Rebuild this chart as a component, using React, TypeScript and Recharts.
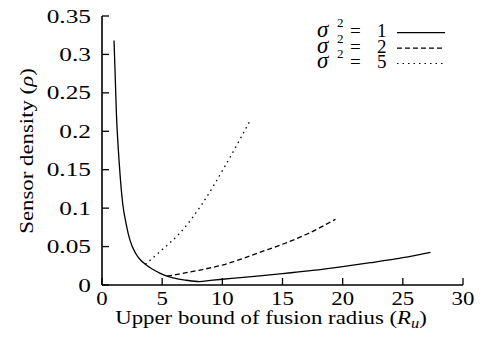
import React from 'react';
import { LineChart, Line, XAxis, YAxis, Legend } from 'recharts';

const xTicks = [0, 5, 10, 15, 20, 25, 30];
const yTicks = [0, 0.05, 0.1, 0.15, 0.2, 0.25, 0.3, 0.35];

const sigmaValues = ['1', '2', '5'];

const solidR = [1.0, 1.2, 1.44, 1.72, 2.0, 2.33, 2.8, 3.2, 3.6, 4.2, 4.8, 5.4, 6, 7, 8.1, 9, 10, 11.5, 13.1, 15, 17.5, 20, 22.3, 25, 27.3];
const solidRho = [0.318, 0.222, 0.157, 0.106, 0.08, 0.058, 0.041, 0.0325, 0.027, 0.0205, 0.0155, 0.0115, 0.0088, 0.0062, 0.0045, 0.006, 0.0075, 0.0095, 0.012, 0.0148, 0.019, 0.024, 0.029, 0.0355, 0.0425];

const dashedR = [5.4, 6.5, 8.15, 10, 11.5, 13.1, 15, 17, 19.4];
const dashedRho = [0.0115, 0.0145, 0.0195, 0.026, 0.0334, 0.0425, 0.053, 0.066, 0.0855];

const dottedR = [3.6, 5, 6.5, 8.3, 10.2, 12.24];
const dottedRho = [0.027, 0.046, 0.068, 0.105, 0.154, 0.212];

const toPoints = (xs: number[], ys: number[]) => xs.map((x, i) => ({ x, y: ys[i] }));
const solidData = toPoints(solidR, solidRho);
const dashedData = toPoints(dashedR, dashedRho);
const dottedData = toPoints(dottedR, dottedRho);

const FONT = "'Liberation Serif', 'Times New Roman', 'DejaVu Serif', serif";
const SX = 1.17;
const FS = 19.5;
const TICK = 7;
const DASH = '5 3';
const DOT = '1.5 4';
const txt = { fontFamily: FONT, fontSize: FS, fill: '#000' } as React.CSSProperties;

const BottomTick = (p: any) => {
  const { x, y, payload } = p;
  return (
    <g>
      <line x1={x} x2={x} y1={y} y2={y - TICK} stroke="#000" strokeWidth={1.3} />
      <text transform={`translate(${x},${y + 20}) scale(${SX},1)`} textAnchor="middle" style={txt}>
        {String(payload.value)}
      </text>
    </g>
  );
};
const TopTick = (p: any) => {
  const { x, y } = p;
  return <line x1={x} x2={x} y1={y} y2={y + TICK} stroke="#000" strokeWidth={1.3} />;
};
const LeftTick = (p: any) => {
  const { x, y, payload } = p;
  return (
    <g>
      <line x1={x} x2={x + TICK} y1={y} y2={y} stroke="#000" strokeWidth={1.3} />
      <text transform={`translate(${x - 11},${y + 6.5}) scale(1.3,1)`} textAnchor="end" style={txt}>
        {String(payload.value)}
      </text>
    </g>
  );
};
const RightTick = (p: any) => {
  const { x, y } = p;
  return <line x1={x} x2={x - TICK} y1={y} y2={y} stroke="#000" strokeWidth={1.3} />;
};

const XLabel = () => (
  <text transform={`translate(271,324) scale(${SX},1)`} textAnchor="middle" style={txt}>
    Upper bound of fusion radius (<tspan fontStyle="italic">R</tspan>
    <tspan fontStyle="italic" fontSize={14} dy={4}>u</tspan>
    <tspan dy={-4}>)</tspan>
  </text>
);
const YLabel = () => (
  <text transform={`translate(33,151) rotate(-90) scale(${SX},1)`} textAnchor="middle" style={txt}>
    Sensor density (<tspan fontStyle="italic">ρ</tspan>)
  </text>
);

const dashes = [undefined, DASH, DOT];

const LegendContent = () => (
  <svg width={487} height={80} style={{ display: 'block' }}>
    {sigmaValues.map((v, i) => {
      const base = 37.3 + i * 15.4;
      return (
        <g key={v}>
          <text x={317} y={base} style={{ ...txt, fontSize: 19 }}>
            <tspan fontStyle="italic" fontSize={23}>σ</tspan>
            <tspan x={337} fontSize={13} dy={-10}>2</tspan>
            <tspan x={350} dy={10}>=</tspan>
            <tspan x={377}>{v}</tspan>
          </text>
          <line x1={397} x2={445} y1={base - 4.6} y2={base - 4.6} stroke="#000" strokeWidth={1.2} strokeDasharray={dashes[i]} />
        </g>
      );
    })}
  </svg>
);

export default function App() {
  return (
    <div style={{ position: 'absolute', left: 0, top: 0, width: 487, height: 343, background: '#fff', fontFamily: FONT }}>
      <LineChart width={487} height={343} margin={{ top: 16, right: 24, bottom: 0, left: 0 }}>
        <XAxis
          xAxisId="b"
          type="number"
          dataKey="x"
          domain={[0, 30]}
          ticks={xTicks}
          interval={0}
          height={58}
          tickSize={0}
          tickMargin={0}
          tickLine={false}
          tick={<BottomTick />}
          axisLine={{ stroke: '#000', strokeWidth: 1.6 }}
          allowDataOverflow
          label={<XLabel />}
        />
        <XAxis
          xAxisId="t"
          orientation="top"
          type="number"
          dataKey="x"
          domain={[0, 30]}
          ticks={xTicks}
          interval={0}
          height={0}
          tickSize={0}
          tickMargin={0}
          tickLine={false}
          tick={<TopTick />}
          axisLine={{ stroke: '#000', strokeWidth: 1.6 }}
          allowDataOverflow
        />
        <YAxis
          yAxisId="l"
          type="number"
          domain={[0, 0.35]}
          ticks={yTicks}
          interval={0}
          width={102}
          tickSize={0}
          tickMargin={0}
          tickLine={false}
          tick={<LeftTick />}
          axisLine={{ stroke: '#000', strokeWidth: 1.6 }}
          allowDataOverflow
          label={<YLabel />}
        />
        <YAxis
          yAxisId="r"
          orientation="right"
          type="number"
          domain={[0, 0.35]}
          ticks={yTicks}
          interval={0}
          width={0}
          tickSize={0}
          tickMargin={0}
          tickLine={false}
          tick={<RightTick />}
          axisLine={{ stroke: '#000', strokeWidth: 1.6 }}
          allowDataOverflow
        />
        <Legend
          layout="horizontal"
          verticalAlign="middle"
          align="center"
          content={<LegendContent />}
          wrapperStyle={{ position: 'absolute', left: 0, top: 0, width: 487, height: 80, margin: 0 }}
        />
        <Line xAxisId="b" yAxisId="l" data={solidData} dataKey="y" type="monotone" stroke="#000" strokeWidth={1.3} dot={false} isAnimationActive={false} />
        <Line xAxisId="b" yAxisId="l" data={dashedData} dataKey="y" type="monotone" stroke="#000" strokeWidth={1.3} strokeDasharray={DASH} dot={false} isAnimationActive={false} />
        <Line xAxisId="b" yAxisId="l" data={dottedData} dataKey="y" type="monotone" stroke="#000" strokeWidth={1.3} strokeDasharray={DOT} dot={false} isAnimationActive={false} />
      </LineChart>
    </div>
  );
}
